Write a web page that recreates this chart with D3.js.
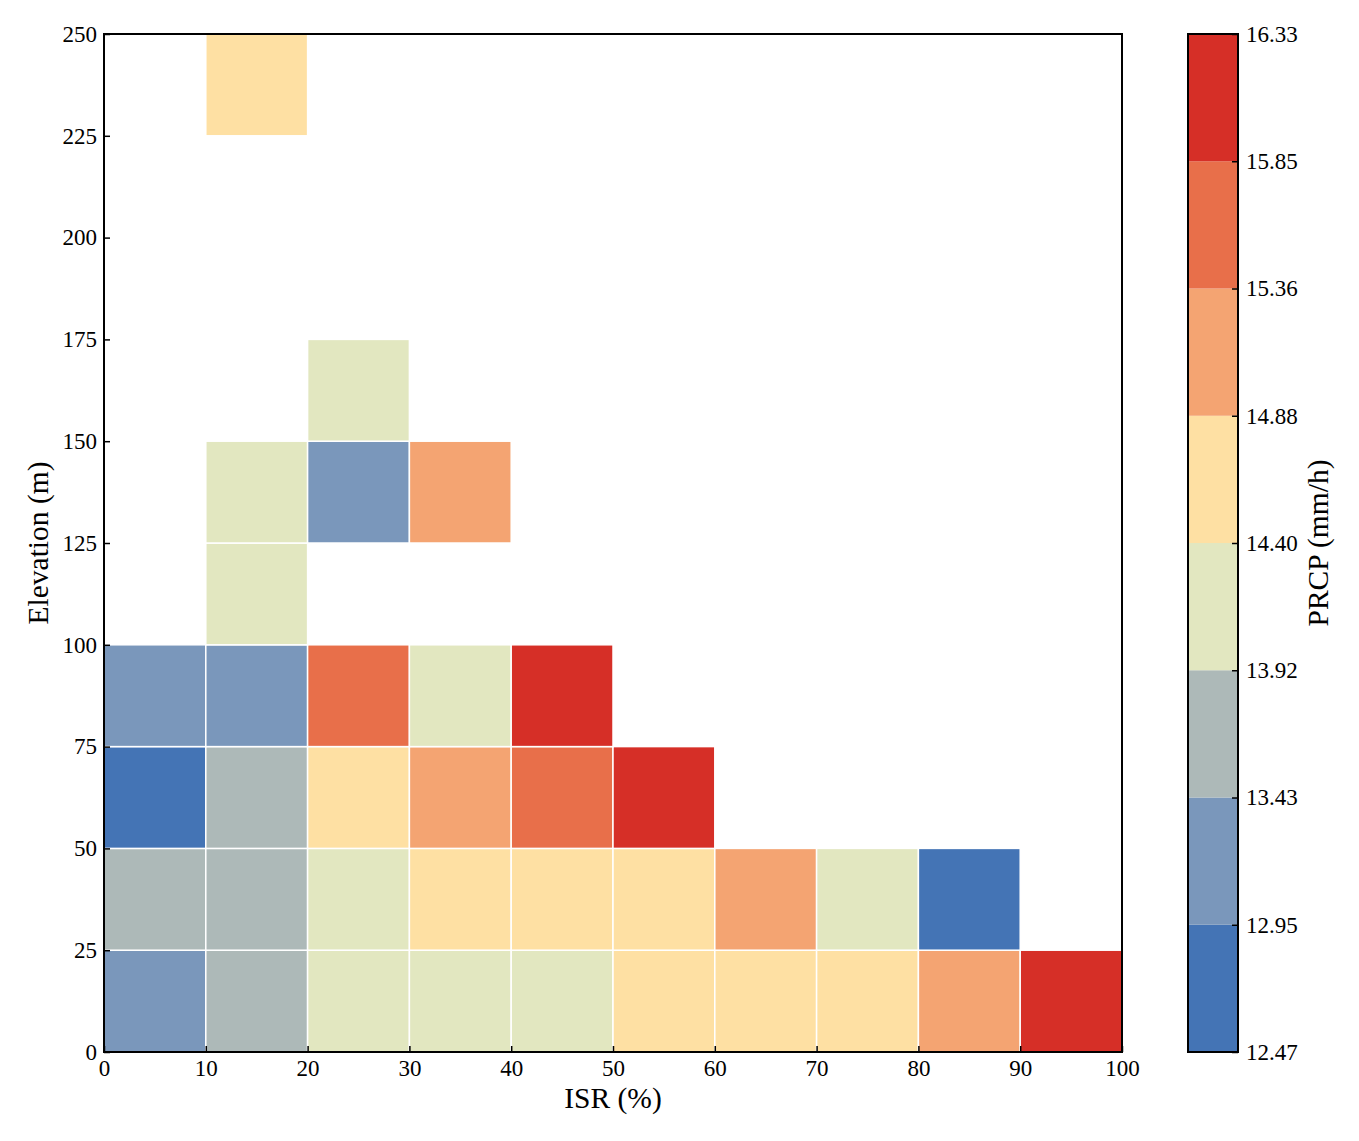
<!DOCTYPE html>
<html>
<head>
<meta charset="utf-8">
<script src="https://cdn.jsdelivr.net/npm/d3@7"></script>
<style>
  body { margin: 0; background: #fff; }
  svg text { font-family: "Liberation Serif", "Times New Roman", serif; fill: #000; }
</style>
</head>
<body>
<svg id="chart" width="1359" height="1141"></svg>
<script>
// ---- data ----
const xBins = [0, 10, 20, 30, 40, 50, 60, 70, 80, 90, 100];
const yBins = [0, 25, 50, 75, 100, 125, 150, 175, 200, 225, 250];
// cells: [x start, y start, PRCP value]
const cellX = [0, 10, 20, 30, 40, 50, 60, 70, 80, 90,
               0, 10, 20, 30, 40, 50, 60, 70, 80,
               0, 10, 20, 30, 40, 50,
               0, 10, 20, 30, 40,
               10,
               10, 20, 30,
               20,
               10];
const cellY = [0, 0, 0, 0, 0, 0, 0, 0, 0, 0,
               25, 25, 25, 25, 25, 25, 25, 25, 25,
               50, 50, 50, 50, 50, 50,
               75, 75, 75, 75, 75,
               100,
               125, 125, 125,
               150,
               225];
const cellV = [13.20, 13.70, 14.15, 14.10, 14.20, 14.60, 14.65, 14.60, 15.10, 16.10,
               13.65, 13.70, 14.15, 14.60, 14.65, 14.70, 15.10, 14.15, 12.70,
               12.60, 13.70, 14.65, 15.10, 15.60, 16.20,
               13.20, 13.15, 15.60, 14.15, 16.20,
               14.15,
               14.15, 13.20, 15.10,
               14.15,
               14.65];
const thresholds = [12.47, 12.95, 13.43, 13.92, 14.40, 14.88, 15.36, 15.85, 16.33];
const colors = ["#4474b5", "#7a97bb", "#adb9b8", "#e2e7c0", "#fee0a3", "#f4a472", "#e86f4a", "#d62f27"];
const xTicks = [0, 10, 20, 30, 40, 50, 60, 70, 80, 90, 100];
const yTicks = [0, 25, 50, 75, 100, 125, 150, 175, 200, 225, 250];

// ---- layout ----
const FONT = "Liberation Serif, Times New Roman, serif";
const svg = d3.select("#chart");
const L = 104, R = 1122, T = 34, B = 1052;
const x = d3.scaleLinear().domain([0, 100]).range([L, R]);
const y = d3.scaleLinear().domain([0, 250]).range([B, T]);
const color = d3.scaleThreshold().domain(thresholds.slice(1, -1)).range(colors);

// cells
const cells = cellV.map((v, i) => ({x0: cellX[i], y0: cellY[i], v}));
svg.append("g").selectAll("rect").data(cells).join("rect")
  .attr("x", d => x(d.x0))
  .attr("y", d => y(d.y0 + 25))
  .attr("width", d => x(d.x0 + 10) - x(d.x0))
  .attr("height", d => y(d.y0) - y(d.y0 + 25))
  .attr("fill", d => color(d.v))
  .attr("stroke", "#fff")
  .attr("stroke-width", 1.5);

// axes (ticks inward)
const fs = 23;
function styleAxis(a) {
  a.attr("font-family", FONT).attr("font-size", fs);
  a.select(".domain").remove();
  a.selectAll(".tick line").attr("stroke", "#000").attr("stroke-width", 1.5);
  a.selectAll("text").style("font-size", fs + "px").style("font-family", FONT).attr("fill", "#000");
}
const xAxis = svg.append("g").attr("transform", `translate(0,${B})`)
  .call(d3.axisBottom(x).tickValues(xTicks).tickSizeInner(-6).tickSizeOuter(0).tickPadding(8));
const yAxis = svg.append("g").attr("transform", `translate(${L},0)`)
  .call(d3.axisLeft(y).tickValues(yTicks).tickSizeInner(-6).tickSizeOuter(0).tickPadding(7));
styleAxis(xAxis);
styleAxis(yAxis);

// frame
svg.append("rect").attr("x", L).attr("y", T).attr("width", R - L).attr("height", B - T)
  .attr("fill", "none").attr("stroke", "#000").attr("stroke-width", 2);

// axis labels
svg.append("text").attr("x", (L + R) / 2).attr("y", 1108).attr("text-anchor", "middle")
  .style("font-size", "29.5px").text("ISR (%)");
svg.append("text").attr("transform", `translate(48,${(T + B) / 2}) rotate(-90)`)
  .attr("text-anchor", "middle").style("font-size", "29.5px").text("Elevation (m)");

// colorbar
const cbL = 1188, cbR = 1238;
const cy = d3.scaleLinear().domain([0, thresholds.length - 1]).range([B, T]);
const cbar = svg.append("g");
cbar.selectAll("rect").data(colors).join("rect")
  .attr("x", cbL).attr("width", cbR - cbL)
  .attr("y", (c, i) => cy(i + 1)).attr("height", (c, i) => cy(i) - cy(i + 1))
  .attr("fill", c => c);
const cbAxis = svg.append("g").attr("transform", `translate(${cbR},0)`)
  .call(d3.axisRight(cy).tickValues(d3.range(thresholds.length))
    .tickFormat(i => thresholds[i].toFixed(2)).tickSizeInner(-6).tickSizeOuter(0).tickPadding(8));
styleAxis(cbAxis);
svg.append("rect").attr("x", cbL).attr("y", T).attr("width", cbR - cbL).attr("height", B - T)
  .attr("fill", "none").attr("stroke", "#000").attr("stroke-width", 2);
svg.append("text").attr("transform", `translate(1328,${(T + B) / 2}) rotate(-90)`)
  .attr("text-anchor", "middle").style("font-size", "29.5px").text("PRCP (mm/h)");
</script>
</body>
</html>
